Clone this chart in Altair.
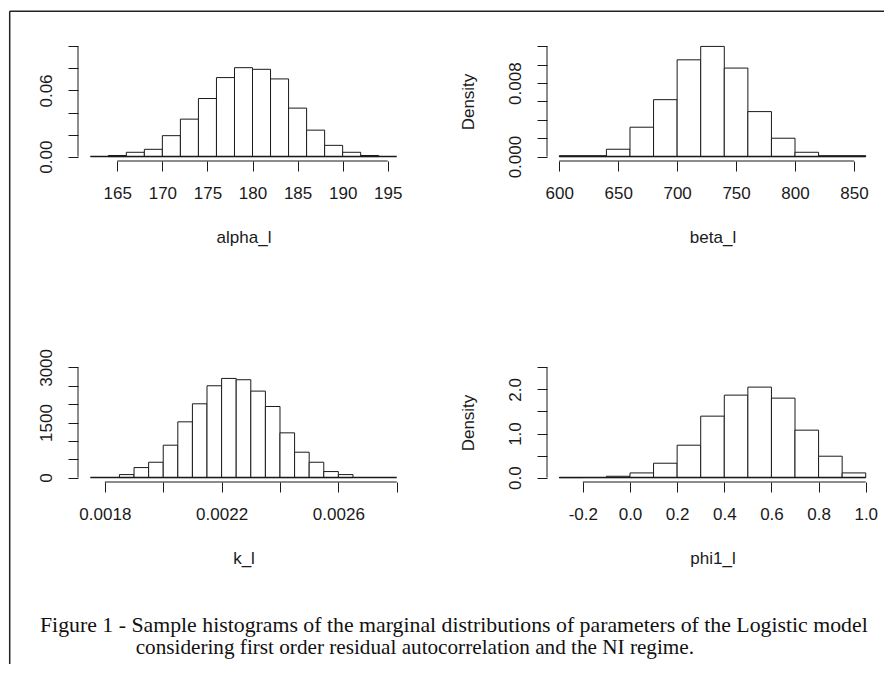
import altair as alt
import pandas as pd

# ---------------- data ----------------
alpha_lo = [164, 166, 168, 170, 172, 174, 176, 178, 180, 182, 184, 186, 188, 190, 192]
alpha_hi = [166, 168, 170, 172, 174, 176, 178, 180, 182, 184, 186, 188, 190, 192, 194]
alpha_density = [0.001, 0.0039, 0.0066, 0.019, 0.034, 0.0527, 0.0717, 0.0807, 0.0792,
                 0.0705, 0.044, 0.024, 0.0102, 0.0039, 0.001]

beta_lo = [600, 620, 640, 660, 680, 700, 720, 740, 760, 780, 800, 820, 840]
beta_hi = [620, 640, 660, 680, 700, 720, 740, 760, 780, 800, 820, 840, 860]
beta_density = [0.0001, 0.0001, 0.0008, 0.0032, 0.0062, 0.01054, 0.012, 0.00964,
                0.0049, 0.002, 0.00047, 0.0001, 0.0001]

k_lo = [0.00185, 0.0019, 0.00195, 0.0020, 0.00205, 0.0021, 0.00215, 0.0022,
        0.00225, 0.0023, 0.00235, 0.0024, 0.00245, 0.0025, 0.00255, 0.0026]
k_hi = [0.0019, 0.00195, 0.0020, 0.00205, 0.0021, 0.00215, 0.0022, 0.00225,
        0.0023, 0.00235, 0.0024, 0.00245, 0.0025, 0.00255, 0.0026, 0.00265]
k_freq = [82, 273, 418, 882, 1518, 2009, 2500, 2700, 2664, 2355, 1936, 1218, 691, 418, 164, 82]

phi_lo = [-0.3, -0.2, -0.1, 0.0, 0.1, 0.2, 0.3, 0.4, 0.5, 0.6, 0.7, 0.8, 0.9]
phi_hi = [-0.2, -0.1, 0.0, 0.1, 0.2, 0.3, 0.4, 0.5, 0.6, 0.7, 0.8, 0.9, 1.0]
phi_density = [0.0, 0.002, 0.03, 0.106, 0.326, 0.735, 1.394, 1.871, 2.053, 1.803,
               1.076, 0.485, 0.106]

alpha_xticks = [165, 170, 175, 180, 185, 190, 195]
beta_xticks = [600, 650, 700, 750, 800, 850]
k_xticks = [0.0018, 0.002, 0.0022, 0.0024, 0.0026, 0.0028]
k_xlabels = [0.0018, 0.0022, 0.0026]
phi_xticks = [-0.2, 0.0, 0.2, 0.4, 0.6, 0.8, 1.0]

alpha_yticks = [0, 0.02, 0.04, 0.06, 0.08, 0.1]
alpha_ylabels = [0, 0.06]
beta_yticks = [0, 0.002, 0.004, 0.006, 0.008, 0.01, 0.012]
beta_ylabels = [0, 0.008]
k_yticks = [0, 500, 1000, 1500, 2000, 2500, 3000]
k_ylabels = [0, 1500, 3000]
phi_yticks = [0, 0.5, 1.0, 1.5, 2.0, 2.5]
phi_ylabels = [0, 1.0, 2.0]

alpha_xlim = [162, 196]
beta_xlim = [600, 860]
k_xlim = [0.00175, 0.0028]
phi_xlim = [-0.3, 1.0]

caption_line1 = "Figure 1 - Sample histograms of the marginal distributions of parameters of the Logistic model"
caption_line2 = "considering first order residual autocorrelation and the NI regime."

# ---------------- styling ----------------
W, H = 331, 119
FONT = "Liberation Sans"
FS = 17
INK = "#1a1a1a"


def fmt_expr(fmt, shown=None):
    base = f"(datum.value < 0 ? '-' + format(-datum.value, '{fmt}') : format(datum.value, '{fmt}'))"
    if shown is None:
        return base
    arr = "[" + ",".join(repr(v) for v in shown) + "]"
    return f"indexof({arr}, datum.value) >= 0 ? {base} : ''"


def panel(title, lo, hi, vals, xlim, ytop, xticks, xfmt, xshown, yticks, yfmt, yshown, ytitle):
    px = 0.04 * (xlim[1] - xlim[0])
    py = 0.04 * ytop
    xs = alt.Scale(domain=[xlim[0] - px, xlim[1] + px], nice=False, zero=False)
    ys = alt.Scale(domain=[-py, ytop + py], nice=False, zero=False)
    df = pd.DataFrame({"lo": lo, "hi": hi, "v": vals})
    xaxis = alt.Axis(values=xticks, labelExpr=fmt_expr(xfmt, xshown), domain=False,
                     tickSize=10, tickColor=INK, tickWidth=1, grid=False,
                     labelFont=FONT, labelFontSize=FS, labelColor=INK, labelPadding=14,
                     labelFlush=False, labelOverlap=False,
                     title=title, titleFont=FONT, titleFontSize=FS, titleFontWeight="normal",
                     titleColor=INK, titlePadding=28)
    yaxis = alt.Axis(values=yticks, labelExpr=fmt_expr(yfmt, yshown), domain=False,
                     tickSize=10, tickColor=INK, tickWidth=1, grid=False, tickCount=len(yticks),
                     labelFont=FONT, labelFontSize=FS, labelColor=INK, labelPadding=17,
                     labelAngle=270, labelAlign="center", labelBaseline="alphabetic",
                     labelFlush=False, labelOverlap=False,
                     title=ytitle if ytitle else "", titleFont=FONT, titleFontSize=FS,
                     titleFontWeight="normal", titleColor=INK, titlePadding=29)
    bars = alt.Chart(df).mark_rect(fill="white", stroke=INK, strokeWidth=1).encode(
        x=alt.X("lo:Q", scale=xs, axis=xaxis),
        x2="hi:Q",
        y=alt.Y("v:Q", scale=ys, axis=yaxis),
        y2=alt.datum(0),
    )
    one = pd.DataFrame({"d": [0]})
    base_line = alt.Chart(one).mark_rule(color=INK, strokeWidth=1.5).encode(
        x=alt.X(datum=xlim[0], type="quantitative", scale=xs, axis=xaxis),
        x2=alt.datum(xlim[1]),
        y=alt.Y(datum=0, type="quantitative", scale=ys, axis=yaxis))
    xdom = alt.Chart(one).mark_rule(color=INK, strokeWidth=1).encode(
        x=alt.X(datum=xticks[0], type="quantitative", scale=xs, axis=xaxis),
        x2=alt.datum(xticks[-1]), y=alt.value(H))
    ydom = alt.Chart(one).mark_rule(color=INK, strokeWidth=1).encode(
        y=alt.Y(datum=yticks[0], type="quantitative", scale=ys, axis=yaxis),
        y2=alt.datum(yticks[-1]), x=alt.value(0))
    return [bars, base_line, xdom, ydom]


p1 = panel("alpha_l", alpha_lo, alpha_hi, alpha_density, alpha_xlim, 0.1,
           alpha_xticks, "d", None, alpha_yticks, ".2f", alpha_ylabels, None)
p2 = panel("beta_l", beta_lo, beta_hi, beta_density, beta_xlim, 0.012,
           beta_xticks, "d", None, beta_yticks, ".3f", beta_ylabels, "Density")
p3 = panel("k_l", k_lo, k_hi, k_freq, k_xlim, 3000,
           k_xticks, ".4f", k_xlabels, k_yticks, "d", k_ylabels, None)
p4 = panel("phi1_l", phi_lo, phi_hi, phi_density, phi_xlim, 2.5,
           phi_xticks, ".1f", None, phi_yticks, ".1f", phi_ylabels, "Density")

one = pd.DataFrame({"d": [0]})
frame_left = alt.Chart(one).mark_rule(color="#222", strokeWidth=1.5).encode(
    x=alt.value(-68.3), y=alt.value(-30.8), y2=alt.value(622))
frame_top = alt.Chart(one).mark_rule(color="#222", strokeWidth=1.5).encode(
    x=alt.value(-68.3), x2=alt.value(806), y=alt.value(-30.8))

cap1 = alt.Chart(pd.DataFrame({"t": [caption_line1]})).mark_text(
    align="left", baseline="alphabetic", font="Liberation Serif", fontSize=21.8, color="#111"
).encode(x=alt.value(-38), y=alt.value(268.5), text="t:N")
cap2 = alt.Chart(pd.DataFrame({"t": [caption_line2]})).mark_text(
    align="left", baseline="alphabetic", font="Liberation Serif", fontSize=21.2, color="#111"
).encode(x=alt.value(57.7), y=alt.value(291), text="t:N")

c1 = alt.layer(*p1, frame_left, frame_top).properties(width=W, height=H)
c2 = alt.layer(*p2).properties(width=W, height=H)
c3 = alt.layer(*p3, cap1, cap2).properties(width=W, height=H)
c4 = alt.layer(*p4).properties(width=W, height=H)

chart = alt.concat(c1, c2, c3, c4, columns=2,
                   spacing=alt.RowColnumber(row=202, column=138),
                   bounds="flush").properties(
    padding={"left": 0, "top": 2, "right": 0, "bottom": 0},
    background="white",
).configure_view(stroke=None)

chart.save("out.html", embed_options={"renderer": "svg", "actions": False})
